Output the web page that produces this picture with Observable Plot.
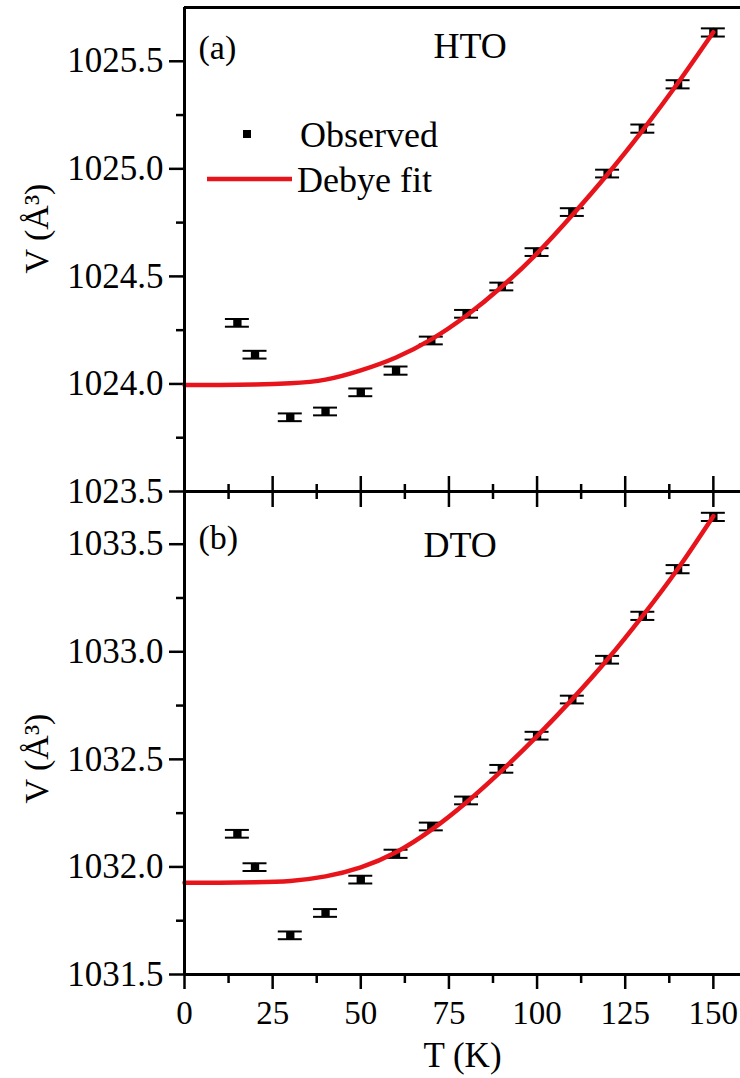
<!DOCTYPE html>
<html><head><meta charset="utf-8">
<script src="https://cdn.jsdelivr.net/npm/d3@7"></script>
<script src="https://cdn.jsdelivr.net/npm/@observablehq/plot@0.6"></script>
<style>
html,body{margin:0;padding:0;background:#fff;}
#chart{position:relative;width:740px;height:1078px;overflow:hidden;background:#fff;}
#chart svg{position:absolute;left:0;}
#chart svg, #chart svg text{font-family:"Liberation Serif","Times New Roman",serif !important;}
</style></head><body><div id="chart"></div>
<script>
// ---- data ----
const temps = [15, 20, 30, 40, 50, 60, 70, 80, 90, 100, 110, 120, 130, 140, 150];
const htoV = [1024.284, 1024.136, 1023.845, 1023.872, 1023.961, 1024.062, 1024.202, 1024.326, 1024.453, 1024.613, 1024.799, 1024.978, 1025.187, 1025.393, 1025.634];
const htoErr = [0.018, 0.018, 0.018, 0.018, 0.018, 0.019, 0.018, 0.018, 0.018, 0.018, 0.018, 0.018, 0.019, 0.019, 0.019];
const dtoV = [1032.154, 1031.999, 1031.682, 1031.786, 1031.941, 1032.061, 1032.188, 1032.309, 1032.456, 1032.610, 1032.778, 1032.963, 1033.167, 1033.384, 1033.627];
const dtoErr = [0.018, 0.018, 0.018, 0.018, 0.018, 0.019, 0.018, 0.018, 0.018, 0.018, 0.018, 0.018, 0.019, 0.019, 0.019];
const fitT = [0, 10, 20, 30, 40, 50, 60, 70, 80, 90, 100, 110, 120, 130, 140, 150];
const htoFit = [1023.995, 1023.995, 1023.997, 1024.003, 1024.020, 1024.063, 1024.123, 1024.207, 1024.318, 1024.452, 1024.607, 1024.785, 1024.975, 1025.180, 1025.400, 1025.635];
const dtoFit = [1031.927, 1031.927, 1031.929, 1031.935, 1031.956, 1031.998, 1032.068, 1032.172, 1032.301, 1032.448, 1032.608, 1032.780, 1032.965, 1033.168, 1033.387, 1033.630];
const xMajor = [0, 25, 50, 75, 100, 125, 150];
const xMinor = [12.5, 37.5, 62.5, 87.5, 112.5, 137.5];
const yMajorA = [1023.5, 1024.0, 1024.5, 1025.0, 1025.5];
const yMinorA = [1023.75, 1024.25, 1024.75, 1025.25];
const yMajorB = [1031.5, 1032.0, 1032.5, 1033.0, 1033.5];
const yMinorB = [1031.75, 1032.25, 1032.75, 1033.25];
const xDomain = [0, 157.7];
const yDomainA = [1023.5, 1025.75];
const yDomainB = [1031.5, 1033.745];
const panelLabels = ["(a)", "(b)"];
const sampleNames = ["HTO", "DTO"];
const legendLabels = ["Observed", "Debye fit"];
const xTitle = "T (K)";
const yTitle = "V (Å³)";

// ---- styling ----
const FONT = '"Liberation Serif", "Times New Roman", serif';
const RED = "#e8141c";
const CAP = 3.4; // half-width of error-bar caps in K

const obsA = temps.map((T, i) => ({T, V: htoV[i], e: htoErr[i]}));
const obsB = temps.map((T, i) => ({T, V: dtoV[i], e: dtoErr[i]}));
const fitA = fitT.map((T, i) => ({T, V: htoFit[i]}));
const fitB = fitT.map((T, i) => ({T, V: dtoFit[i]}));

function dataMarks(obs, fit) {
  return [
    Plot.ruleX(obs, {x: "T", y1: d => d.V - d.e, y2: d => d.V + d.e, stroke: "black", strokeWidth: 2}),
    Plot.ruleY(obs, {y: d => d.V + d.e, x1: d => d.T - CAP, x2: d => d.T + CAP, stroke: "black", strokeWidth: 2}),
    Plot.ruleY(obs, {y: d => d.V - d.e, x1: d => d.T - CAP, x2: d => d.T + CAP, stroke: "black", strokeWidth: 2}),
    Plot.dot(obs, {x: "T", y: "V", symbol: "square", r: 4.7, fill: "black", stroke: null}),
    Plot.line(fit, {x: "T", y: "V", stroke: RED, strokeWidth: 4.5, curve: "natural"})
  ];
}
function yAxes(major, minor) {
  return [
    Plot.axisY(major, {anchor: "left", tickSize: 15, tickPadding: 6, strokeWidth: 2.5, fontSize: 35,
      tickFormat: d3.format(".1f"), label: null, fill: "black"}),
    Plot.axisY(minor, {anchor: "left", tickSize: 8, strokeWidth: 2.5, tickFormat: () => "", label: null})
  ];
}
function frameLines(yDom) {
  return [
    Plot.ruleY([yDom[1]], {stroke: "black", strokeWidth: 3}),
    Plot.ruleY([yDom[0]], {stroke: "black", strokeWidth: 3}),
    Plot.ruleX([0], {stroke: "black", strokeWidth: 3})
  ];
}

const legendMark = () => {
  const g = d3.create("svg:g").attr("font-size", 36).attr("text-anchor", "start");
  g.append("rect").attr("x", 243).attr("y", 130).attr("width", 8).attr("height", 8).attr("fill", "black");
  g.append("text").attr("x", 300).attr("y", 134).attr("dy", "0.35em").attr("fill", "black").text(legendLabels[0]);
  g.append("line").attr("x1", 207).attr("x2", 292).attr("y1", 179).attr("y2", 179)
    .attr("stroke", RED).attr("stroke-width", 4.5);
  g.append("text").attr("x", 297).attr("y", 179).attr("dy", "0.35em").attr("fill", "black").text(legendLabels[1]);
  return g.node();
};

const common = {
  width: 740, marginLeft: 184, marginRight: 0,
  x: {domain: xDomain, axis: null},
  style: {fontFamily: FONT, background: "transparent", overflow: "visible", color: "black"}
};

const plotA = Plot.plot({
  ...common,
  height: 491, marginTop: 7, marginBottom: 0,
  y: {domain: yDomainA, axis: null},
  marks: [
    ...yAxes(yMajorA, yMinorA),
    Plot.axisX(xMajor, {anchor: "bottom", tickSize: 16, strokeWidth: 2.5, tickFormat: () => "", label: null}),
    Plot.axisX(xMinor, {anchor: "bottom", tickSize: 8, strokeWidth: 2.5, tickFormat: () => "", label: null}),
    ...dataMarks(obsA, fitA),
    ...frameLines(yDomainA),
    Plot.text([panelLabels[0]], {text: d => d, frameAnchor: "top-left", dx: 14, dy: 41, textAnchor: "start", lineAnchor: "middle", fontSize: 34, fill: "black"}),
    Plot.text([sampleNames[0]], {text: d => d, frameAnchor: "top-left", dx: 249, dy: 39, textAnchor: "start", lineAnchor: "middle", fontSize: 36, fill: "black"}),
    Plot.text([yTitle], {text: d => d, frameAnchor: "left", dx: -147, dy: -21, rotate: -90, textAnchor: "middle", lineAnchor: "middle", fontSize: 34, fill: "black"}),
    legendMark
  ]
});
plotA.style.top = "0px";

const plotB = Plot.plot({
  ...common,
  height: 587, marginTop: 0, marginBottom: 104,
  y: {domain: yDomainB, axis: null},
  marks: [
    ...yAxes(yMajorB, yMinorB),
    Plot.axisX(xMajor, {anchor: "top", tickSize: 16, strokeWidth: 2.5, tickFormat: () => "", label: null}),
    Plot.axisX(xMinor, {anchor: "top", tickSize: 8, strokeWidth: 2.5, tickFormat: () => "", label: null}),
    Plot.axisX(xMajor, {anchor: "bottom", tickSize: 15, tickPadding: 11, strokeWidth: 2.5, fontSize: 33, label: null, fill: "black"}),
    Plot.axisX(xMinor, {anchor: "bottom", tickSize: 9, strokeWidth: 2.5, tickFormat: () => "", label: null}),
    ...dataMarks(obsB, fitB),
    ...frameLines(yDomainB),
    Plot.text([panelLabels[1]], {text: d => d, frameAnchor: "top-left", dx: 14, dy: 46.5, textAnchor: "start", lineAnchor: "middle", fontSize: 34, fill: "black"}),
    Plot.text([sampleNames[1]], {text: d => d, frameAnchor: "top-left", dx: 239, dy: 53.5, textAnchor: "start", lineAnchor: "middle", fontSize: 36, fill: "black"}),
    Plot.text([yTitle], {text: d => d, frameAnchor: "left", dx: -147, dy: 25.5, rotate: -90, textAnchor: "middle", lineAnchor: "middle", fontSize: 34, fill: "black"}),
    Plot.text([xTitle], {text: d => d, frameAnchor: "bottom", dy: 81.5, textAnchor: "middle", lineAnchor: "middle", fontSize: 35, fill: "black"})
  ]
});
plotB.style.top = "491px";

const chart = document.getElementById("chart");
chart.appendChild(plotA);
chart.appendChild(plotB);
</script>
</body></html>
